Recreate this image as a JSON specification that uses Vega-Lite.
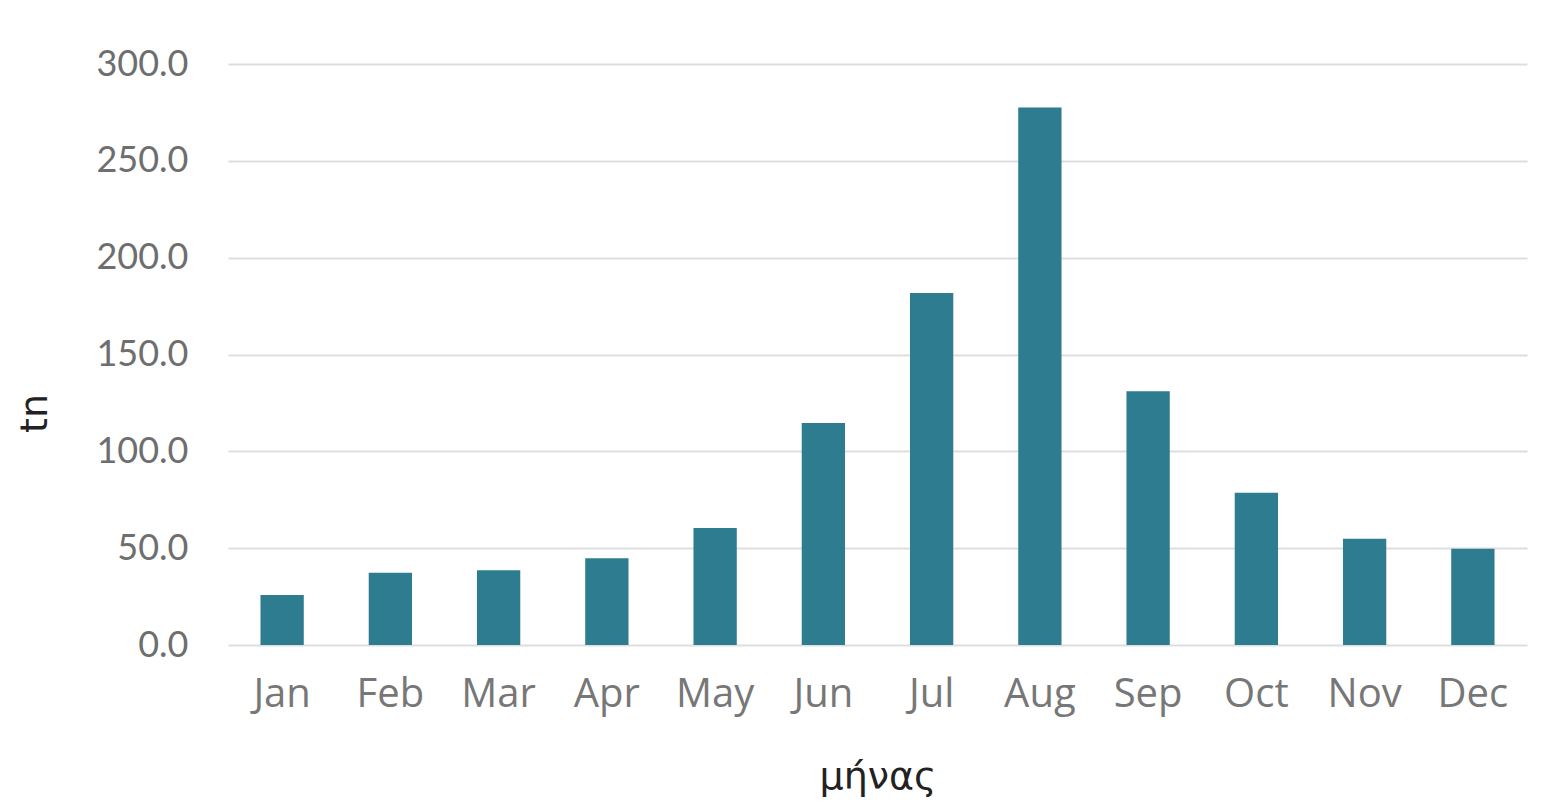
{
  "$schema": "https://vega.github.io/schema/vega-lite/v6.json",
  "width": 1299,
  "height": 581,
  "autosize": "none",
  "padding": {"left": 228, "top": 64, "right": 26, "bottom": 163},
  "background": "white",
  "data": {
    "values": [
      {"month": "Jan", "tn": 25.8},
      {"month": "Feb", "tn": 37.3},
      {"month": "Mar", "tn": 38.6},
      {"month": "Apr", "tn": 44.8},
      {"month": "May", "tn": 60.4},
      {"month": "Jun", "tn": 114.6},
      {"month": "Jul", "tn": 181.7},
      {"month": "Aug", "tn": 277.5},
      {"month": "Sep", "tn": 131.0},
      {"month": "Oct", "tn": 78.6},
      {"month": "Nov", "tn": 54.9},
      {"month": "Dec", "tn": 49.7}
    ]
  },
  "config": {"view": {"stroke": null}},
  "mark": {"type": "bar", "color": "#2e7c90"},
  "encoding": {
    "x": {
      "field": "month",
      "type": "nominal",
      "sort": null,
      "scale": {"paddingInner": 0.6, "paddingOuter": 0.3},
      "axis": {
        "title": "μήνας",
        "labelAngle": 0,
        "labelFont": "Open Sans",
        "labelFontSize": 40,
        "labelColor": "#777777",
        "labelPadding": 29,
        "ticks": false,
        "domain": false,
        "titleFont": "DejaVu Sans",
        "titleFontSize": 38,
        "titleFontWeight": "normal",
        "titleColor": "#222222",
        "titleY": 143,
        "titleBaseline": "alphabetic"
      }
    },
    "y": {
      "field": "tn",
      "type": "quantitative",
      "scale": {"domain": [0, 300], "nice": false},
      "axis": {
        "title": "tn",
        "values": [0, 50, 100, 150, 200, 250, 300],
        "format": ".1f",
        "labelFont": "Lato",
        "labelFontSize": 36,
        "labelColor": "#6e6e6e",
        "labelPadding": 40,
        "ticks": false,
        "domain": false,
        "grid": true,
        "gridColor": "#dedede",
        "gridWidth": 2,
        "titleFont": "DejaVu Sans",
        "titleFontSize": 38,
        "titleFontWeight": "normal",
        "titleColor": "#222222",
        "titleAngle": -90,
        "titleAlign": "center",
        "titleBaseline": "alphabetic",
        "titleX": -182,
        "titleY": 349
      }
    }
  }
}
